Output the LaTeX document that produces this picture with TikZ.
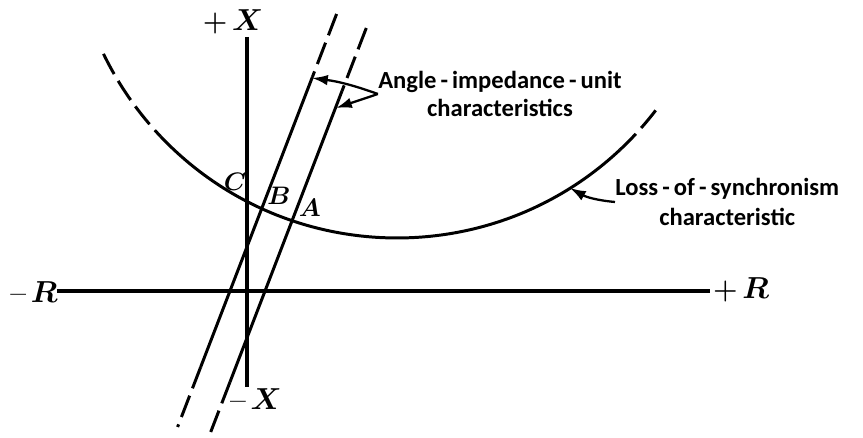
\documentclass[tikz,border=0pt]{standalone}
\usepackage{fontspec}
\usepackage{amsmath}
\usetikzlibrary{arrows.meta}
\newfontfamily\notefont{Carlito}

\begin{document}
\begin{tikzpicture}[
  x=0.02cm, y=0.02cm,
  axis/.style={line width=1.9pt},
  curve/.style={line width=1.7pt},
  dashpart/.style={curve, dash pattern=on 13pt off 4.5pt},
  pointer/.style={line width=1.3pt, -{Latex[length=9pt,width=6pt]}},
  note/.style={font=\notefont\bfseries\fontsize{14}{16}\selectfont, align=center, inner sep=0pt},
  axislabel/.style={font=\bfseries\fontsize{16}{18}\selectfont, inner sep=0pt},
  pointlabel/.style={font=\fontsize{14}{16}\selectfont, inner sep=0pt}
]

\useasboundingbox (-247,-147) rectangle (616,291);

% === Axes ===
\coordinate (Xtop)   at (0,254);
\coordinate (Xbot)   at (0,-96);
\coordinate (Rleft)  at (-190,0);
\coordinate (Rright) at (463,0);
\draw[axis] (Xtop) -- (Xbot);
\draw[axis] (Rleft) -- (Rright);

\node[axislabel] (plusX)  at (-14,269)  {+\,$\boldsymbol{X}$};
\node[axislabel] (minusX) at (9,-108)   {--\,$\boldsymbol{X}$};
\node[axislabel] (minusR) at (-213,-1)  {--\,$\boldsymbol{R}$};
\node[axislabel] (plusR)  at (494,1)    {+\,$\boldsymbol{R}$};

% === Angle-impedance-unit lines (parallel, dashed ends) ===
% line 1: (-17+0.385t, t)
\coordinate (L1a) at (89.6,277);
\coordinate (L1b) at (65.4,214);
\coordinate (L1c) at (-46.3,-76);
\coordinate (L1d) at (-69.4,-136);
\draw[dashpart] (L1a) -- (L1b);
\draw[curve]    (L1b) -- (L1c);
\draw[dashpart] (L1c) -- (L1d);
% line 2: (18+0.385t, t)
\coordinate (L2a) at (119.3,263);
\coordinate (L2b) at (95,200);
\coordinate (L2c) at (-17,-91);
\coordinate (L2d) at (-38.6,-147);
\draw[dashpart] (L2a) -- (L2b);
\draw[curve]    (L2b) -- (L2c);
\draw[dashpart] (L2c) -- (L2d);

% === Loss-of-synchronism circle ===
\coordinate (O) at (150,379);
\draw[dashpart] (O) ++(205.8:326) arc[start angle=205.8, end angle=223.5, radius=326];
\draw[curve]    (O) ++(223.5:326) arc[start angle=223.5, end angle=313.1, radius=326];
\draw[dashpart] (O) ++(313.1:326) arc[start angle=313.1, end angle=323.6, radius=326];

% === Points ===
\node[pointlabel] (C) at (-12,109) {$\boldsymbol{C}$};
\node[pointlabel] (B) at (32,95)   {$\boldsymbol{B}$};
\node[pointlabel] (A) at (63,83)   {$\boldsymbol{A}$};

% === Notes ===
\node[note] (angletext) at (253,197) {Angle\,-\,impedance\,-\,unit\\characteristics};
\node[note, anchor=west] (losstext) at (368,89) {Loss\,-\,of\,-\,synchronism\\[1pt]characteristic};

\coordinate (tip1) at (65,213);
\coordinate (tip2) at (89,183);
\coordinate (tip3) at (323,103);
\draw[pointer] (angletext.west) to[bend right=6] (tip1);
\draw[pointer] (angletext.west) -- (tip2);
\draw[pointer] (losstext.west) to[bend left=12] (tip3);

\end{tikzpicture}
\end{document}
